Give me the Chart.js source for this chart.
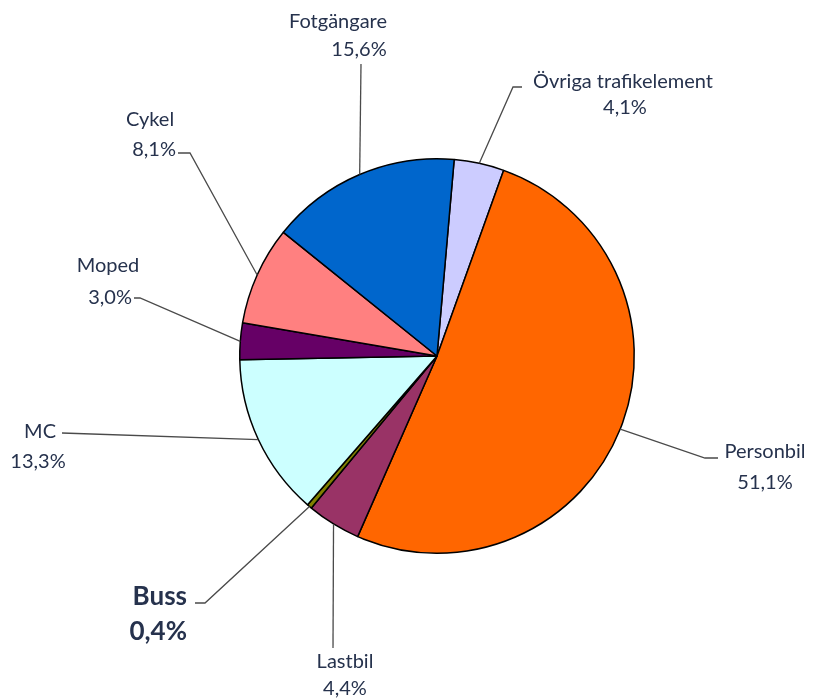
<!DOCTYPE html>
<html lang="sv">
<head>
    <meta charset="UTF-8">
    <title>Fördelning per trafikelement</title>
    <style>
        body {
            margin: 0;
            background: #ffffff;
        }
        #chart {
            display: block;
        }
    </style>
    <script src="https://cdn.jsdelivr.net/npm/chart.js"></script>
</head>
<body>
    <canvas id="chart" width="818" height="699"></canvas>
    <script>
        // data, clockwise from the top
        const categories = ['Övriga trafikelement', 'Personbil', 'Lastbil', 'Buss', 'MC', 'Moped', 'Cykel', 'Fotgängare'];
        const shares = [4.1, 51.1, 4.4, 0.4, 13.3, 3.0, 8.1, 15.6];
        const shareLabels = ['4,1%', '51,1%', '4,4%', '0,4%', '13,3%', '3,0%', '8,1%', '15,6%'];
        const sliceColors = ['#ccccff', '#ff6600', '#993366', '#808000', '#ccffff', '#660066', '#ff8080', '#0066cc'];

        // leader line bend/end points and text anchors, relative to the pie centre
        const labelLayout = [
            { path: [[76, -269], [85, -269]], name: [186, -274, 'center'], pct: [188, -248, 'center'] },
            { path: [[268, 102], [281, 102]], name: [328, 96, 'center'], pct: [328, 127, 'center'] },
            { path: [[-104, 292]], name: [-92, 306, 'center'], pct: [-92, 333, 'center'] },
            { path: [[-232, 247], [-242, 247]], name: [-250, 241, 'right'], pct: [-250, 276, 'right'], bold: true },
            { path: [[-375, 77]], name: [-381, 76, 'right'], pct: [-399, 106, 'center'] },
            { path: [[-297, -58], [-303, -58]], name: [-329, -90, 'center'], pct: [-305, -58, 'right'] },
            { path: [[-247, -203], [-259, -203]], name: [-287, -236, 'center'], pct: [-261, -206, 'right'] },
            { path: [[-76, -292]], name: [-99, -334, 'center'], pct: [-78, -306, 'center'] }
        ];

        const leaderLabels = {
            id: 'leaderLabels',
            afterDatasetsDraw(chart) {
                const ctx = chart.ctx;
                const arcs = chart.getDatasetMeta(0).data;
                arcs.forEach((arc, i) => {
                    const lay = labelLayout[i];
                    const mid = (arc.startAngle + arc.endAngle) / 2;
                    const cx = arc.x, cy = arc.y;
                    ctx.save();
                    ctx.strokeStyle = '#4a4a4a';
                    ctx.lineWidth = 1.3;
                    ctx.beginPath();
                    ctx.moveTo(cx + Math.cos(mid) * arc.outerRadius, cy + Math.sin(mid) * arc.outerRadius);
                    lay.path.forEach(p => ctx.lineTo(cx + p[0], cy + p[1]));
                    ctx.stroke();

                    ctx.fillStyle = '#26324d';
                    ctx.textBaseline = 'middle';
                    ctx.font = lay.bold ? 'bold 26px Lato, "Open Sans", sans-serif' : '20px Lato, "Open Sans", sans-serif';
                    ctx.textAlign = lay.name[2];
                    ctx.fillText(categories[i], cx + lay.name[0], cy + lay.name[1]);
                    ctx.textAlign = lay.pct[2];
                    ctx.fillText(shareLabels[i], cx + lay.pct[0], cy + lay.pct[1]);
                    ctx.restore();
                });
            }
        };

        new Chart(document.getElementById('chart'), {
            type: 'pie',
            data: {
                labels: categories,
                datasets: [{
                    data: shares,
                    backgroundColor: sliceColors,
                    borderColor: '#000000',
                    borderWidth: 1.5
                }]
            },
            options: {
                responsive: false,
                animation: false,
                rotation: 5,
                layout: {
                    padding: { left: 239, right: 183, top: 158, bottom: 145 }
                },
                plugins: {
                    legend: { display: false },
                    tooltip: { enabled: false }
                }
            },
            plugins: [leaderLabels]
        });
    </script>
</body>
</html>
